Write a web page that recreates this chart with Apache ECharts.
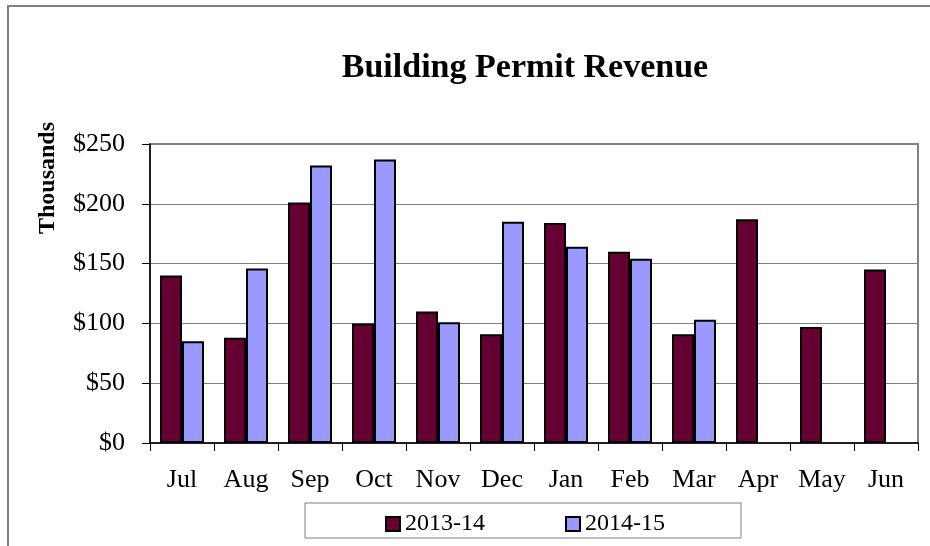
<!DOCTYPE html>
<html>
<head>
<meta charset="utf-8">
<script src="https://cdn.jsdelivr.net/npm/echarts@6/dist/echarts.min.js"></script>
<style>
  html, body { margin: 0; padding: 0; background: #fff; }
  #chart { width: 930px; height: 546px; }
</style>
</head>
<body>
<div id="chart"></div>
<script>
// data, in thousands of dollars
var months = ["Jul", "Aug", "Sep", "Oct", "Nov", "Dec", "Jan", "Feb", "Mar", "Apr", "May", "Jun"];
var rev1314 = [140, 88, 201, 100, 110, 91, 184, 160, 91, 187, 97, 145];
var rev1415 = [85, 146, 232, 237, 101, 185, 164, 154, 103, null, null, null];
var seriesNames = ["2013-14", "2014-15"];

var font = "'Liberation Serif', 'DejaVu Serif', serif";
var chart = echarts.init(document.getElementById("chart"));

chart.setOption({
  animation: false,
  backgroundColor: "#fff",
  title: {
    text: "Building Permit Revenue",
    left: 520,
    top: 46,
    textAlign: "center",
    textStyle: { fontFamily: font, fontSize: 34, fontWeight: "bold", color: "#000" }
  },
  graphic: [
    {
      type: "rect",
      shape: { x: 8, y: 6, width: 1000, height: 700 },
      style: { fill: "none", stroke: "#808080", lineWidth: 2 },
      silent: true
    },
    {
      type: "rect",
      shape: { x: 305, y: 503, width: 436, height: 35 },
      style: { fill: "#fff", stroke: "#808080", lineWidth: 1 },
      silent: true
    },
    {
      type: "text",
      x: 48,
      y: 178,
      rotation: Math.PI / 2,
      style: {
        text: "Thousands",
        fontFamily: font,
        fontSize: 24,
        fontWeight: "bold",
        fill: "#000",
        textAlign: "center",
        textVerticalAlign: "middle"
      },
      silent: true
    },
    {
      type: "rect",
      shape: { x: 150, y: 144, width: 768, height: 299 },
      style: { fill: "none", stroke: "#808080", lineWidth: 2 },
      silent: true,
      z: 0
    }
  ],
  legend: {
    data: seriesNames,
    left: 380,
    top: 507,
    icon: "rect",
    itemWidth: 14,
    itemHeight: 14,
    itemGap: 80,
    textStyle: { fontFamily: font, fontSize: 24, color: "#000" },
    itemStyle: { borderColor: "#000", borderWidth: 2 }
  },
  grid: { left: 150, right: 12, top: 144, bottom: 103 },
  xAxis: {
    type: "category",
    data: months,
    axisLine: { lineStyle: { color: "#000", width: 1.5 } },
    axisTick: { show: true, length: 8, lineStyle: { color: "#000" } },
    axisLabel: { fontFamily: font, fontSize: 26, color: "#000", margin: 24 },
    splitLine: { show: false }
  },
  yAxis: {
    type: "value",
    min: 0,
    max: 250,
    interval: 50,
    axisLine: { show: true, lineStyle: { color: "#000", width: 1.5 } },
    axisTick: { show: true, length: 8, lineStyle: { color: "#000" } },
    axisLabel: {
      fontFamily: font, fontSize: 26, color: "#000", margin: 25,
      formatter: function (v) { return "$" + v; }
    },
    splitLine: { show: true, lineStyle: { color: "#808080", width: 1 } }
  },
  series: [
    {
      name: seriesNames[0],
      type: "bar",
      data: rev1314,
      barWidth: 22,
      barGap: "0%",
      itemStyle: { color: "#660033", borderColor: "#000", borderWidth: 2 }
    },
    {
      name: seriesNames[1],
      type: "bar",
      data: rev1415,
      barWidth: 22,
      itemStyle: { color: "#9999FF", borderColor: "#000", borderWidth: 2 }
    }
  ]
});
</script>
</body>
</html>
